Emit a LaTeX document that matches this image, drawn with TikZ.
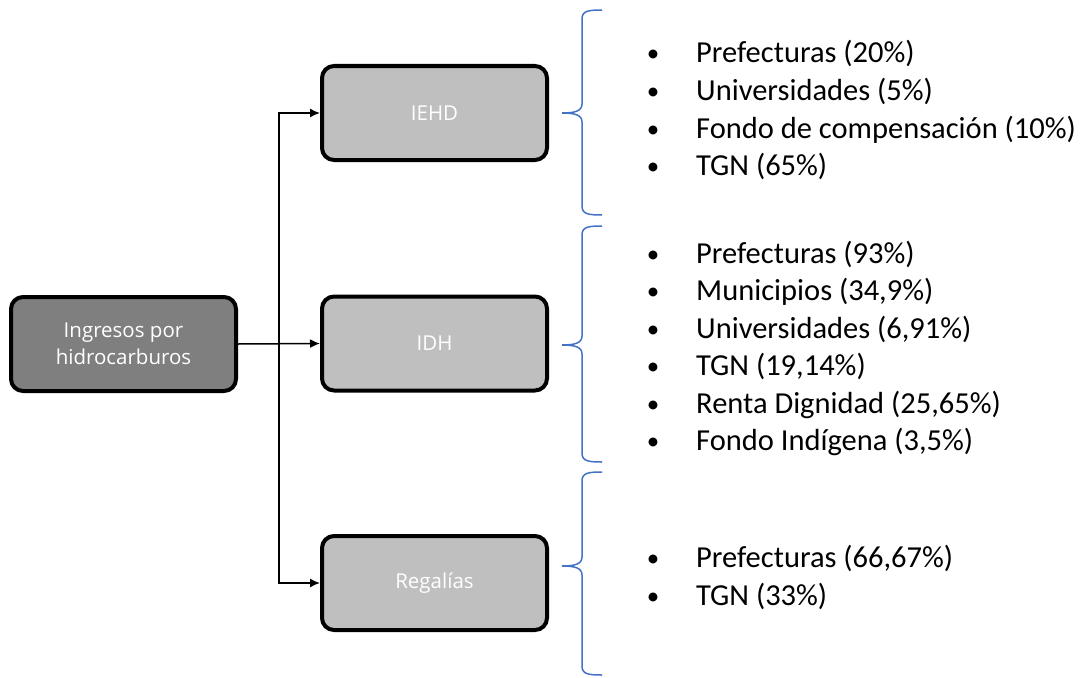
\documentclass[tikz,border=0pt]{standalone}
\usepackage{fontspec}
\setmainfont{Carlito}
\newfontfamily\boxfont{Open Sans}
\usetikzlibrary{arrows.meta}
\definecolor{bracecol}{HTML}{4472C4}
\definecolor{lightfill}{HTML}{BFBFBF}
\definecolor{darkfill}{HTML}{7F7F7F}
\newcommand{\listfont}{\fontsize{30.5}{37}\selectfont}
\begin{document}
\begin{tikzpicture}[x=1pt, y=-1pt,
   box/.style={rectangle, rounded corners=12pt, draw=black, line width=4pt, fill=lightfill,
      minimum width=225pt, minimum height=94pt, text=white, align=center,
      font=\boxfont\fontsize{20.5}{27.5}\selectfont},
   link/.style={line width=1.5pt, -{Latex[length=10pt,width=9pt]}},
   brace/.style={draw=bracecol, line width=1.5pt},
   item/.style={anchor=base west, inner sep=0pt, font=\listfont},
   dot/.style={anchor=base, inner sep=0pt, yshift=1pt, font=\fontsize{25}{25}\selectfont}]
\useasboundingbox (0,0) rectangle (1086,677);
% boxes
\node [box, fill=darkfill] (ingresos) at (123.5,344) {Ingresos por\\hidrocarburos};
\node [box] (iehd) at (434.5,113) {IEHD};
\node [box] (idh) at (434.5,343.5) {IDH};
\node [box] (regalias) at (434.5,583) {Regalías};
% connectors
\coordinate (bus) at (279,344);
\draw [link] (ingresos.east) -- (idh.west);
\draw [link] (bus) |- (iehd.west);
\draw [link] (bus) |- (regalias.west);
% braces
\foreach \t/\m/\b in {10/113/215, 226/345/462, 472/566/675}
   \draw [brace] (602,\t) .. controls (588,\t) and (582,\t+1) .. (582,\t+9)
      -- (582,\m-9) .. controls (582,\m-2) and (575,\m) .. (562,\m)
      .. controls (575,\m) and (582,\m+2) .. (582,\m+9)
      -- (582,\b-9) .. controls (582,\b-1) and (588,\b) .. (602,\b);
% lists
\foreach \txt [count=\i] in {Prefecturas (20\%), Universidades (5\%),
      Fondo de compensación (10\%), TGN (65\%)} {
   \node [dot] (ba\i) at (653,25.4+37.6*\i) {•};
   \node [item] (la\i) at (696,25.4+37.6*\i) {\txt};
}
\foreach \txt [count=\i] in {Prefecturas (93\%), {Municipios (34,9\%)},
      {Universidades (6,91\%)}, {TGN (19,14\%)}, {Renta Dignidad (25,65\%)},
      {Fondo Indígena (3,5\%)}} {
   \node [dot] (bb\i) at (653,225.5+37.5*\i) {•};
   \node [item] (lb\i) at (696,225.5+37.5*\i) {\txt};
}
\foreach \txt [count=\i] in {{Prefecturas (66,67\%)}, TGN (33\%)} {
   \node [dot] (bc\i) at (653,529+38*\i) {•};
   \node [item] (lc\i) at (696,529+38*\i) {\txt};
}
\end{tikzpicture}
\end{document}
